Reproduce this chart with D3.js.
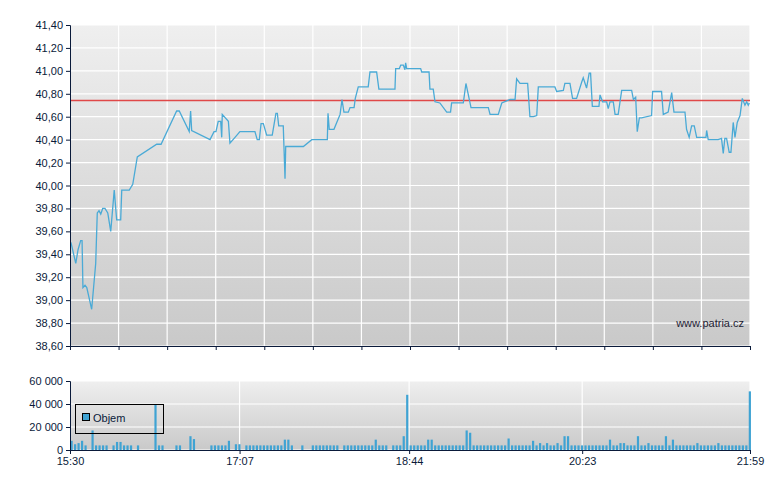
<!DOCTYPE html>
<html><head><meta charset="utf-8">
<script src="https://cdn.jsdelivr.net/npm/d3@7"></script>
<style>body{margin:0;background:#fff}svg{display:block;font-family:"Liberation Sans",Arial,sans-serif}</style>
</head><body><svg id="c" width="780" height="490"></svg>
<script>
// minutes since 15:30
const priceTimes=[0,0.6,3.3,4.6,6.1,6.9,7.4,8.6,9.6,12.4,14.7,15.6,16.6,17.6,18.7,20.0,21.6,23.3,25.3,26.7,29.0,29.6,33.9,35.9,38.5,49.6,52.1,61.0,62.5,68.2,69.0,69.6,80.1,82.4,83.5,84.8,86.2,86.8,87.1,90.6,91.5,94.4,97.2,105.8,107.1,108.3,109.3,110.6,112.5,115.7,117.8,118.6,119.4,122.0,123.0,123.4,133.5,138.3,147.2,147.6,148.3,151.0,154.5,155.6,156.7,159.2,160.2,162.5,163.2,164.9,170.6,171.6,175.4,176.7,185.9,186.3,188.4,189.2,190.7,191.6,192.0,192.6,200.6,201.2,205.4,205.9,207.8,208.8,211.6,215.5,217.7,218.3,225.0,226.5,229.4,239.3,240.3,245.0,247.0,251.7,254.6,255.5,257.4,261.8,263.1,265.1,267.0,267.9,277.4,278.4,282.2,283.1,286.0,287.5,289.8,292.7,293.6,295.5,297.0,297.8,298.8,302.6,303.2,304.7,307.0,307.9,308.9,310.8,311.8,313.6,315.6,321.3,322.3,323.6,324.5,325.7,327.0,332.7,333.3,338.4,339.4,342.2,344.2,345.5,351.8,352.7,354.2,355.6,357.1,358.5,363.8,364.2,365.1,370.8,372.7,373.7,374.6,375.6,377.1,378.1,379.4,380.4,381.7,383.3,384.6,386.1,387.1,388.0,388.6];
const priceValues=[39.50,39.50,39.32,39.44,39.52,39.52,39.11,39.13,39.11,38.92,39.32,39.76,39.78,39.75,39.80,39.80,39.76,39.60,39.96,39.70,39.70,39.96,39.96,40.01,40.25,40.36,40.36,40.65,40.65,40.47,40.65,40.48,40.40,40.47,40.47,40.56,40.56,40.42,40.62,40.56,40.37,40.42,40.47,40.47,40.40,40.40,40.54,40.54,40.44,40.44,40.63,40.63,40.52,40.52,40.06,40.34,40.34,40.40,40.40,40.63,40.49,40.49,40.62,40.75,40.64,40.64,40.68,40.68,40.76,40.86,40.86,40.99,40.99,40.84,40.84,41.02,41.02,41.05,41.05,41.01,41.07,41.02,41.02,40.99,40.99,40.84,40.84,40.73,40.72,40.64,40.64,40.72,40.72,40.89,40.68,40.68,40.62,40.62,40.72,40.75,40.75,40.93,40.89,40.89,40.60,40.60,40.61,40.86,40.86,40.82,40.83,40.89,40.89,40.76,40.76,40.90,40.94,40.85,40.98,40.98,40.69,40.69,40.79,40.73,40.73,40.67,40.73,40.73,40.62,40.62,40.83,40.83,40.75,40.77,40.47,40.59,40.59,40.61,40.82,40.82,40.62,40.64,40.81,40.64,40.64,40.49,40.42,40.52,40.52,40.42,40.42,40.48,40.40,40.40,40.41,40.28,40.41,40.41,40.29,40.29,40.55,40.42,40.55,40.61,40.76,40.70,40.73,40.70,40.72];
const refPrice=40.75;
// volume per 2-minute bin
const volumes=[8000,5000,6000,8000,4000,0,17000,4000,4000,4000,
4000,0,4000,7000,7000,4000,4000,4000,0,4000,
0,0,0,0,40000,4000,4000,0,0,0,
4000,4000,0,0,12000,9500,0,0,0,0,
4000,4000,4000,4000,4000,8000,0,5000,5000,0,
4000,4000,4000,4000,4000,4000,4000,4000,4000,4000,
4000,9000,9000,4000,0,0,4000,0,0,4000,
4000,4000,4000,4000,4000,4000,4000,0,4000,4000,
4000,4000,4000,4000,4000,4000,4000,9000,4000,4000,
4000,0,4000,4000,4000,12000,48000,4000,4000,4000,
4000,4000,9000,9000,4000,4000,4000,4000,4000,4000,
4000,4000,4000,17000,15000,4000,4000,4000,4000,4000,
4000,4000,4000,4000,4000,10000,4000,4000,4000,4000,
4000,4000,8000,4000,6000,4000,6000,4000,4000,6000,
4000,12000,12000,4000,4000,4000,4000,4000,4000,4000,
4000,4000,4000,4000,9000,4000,4000,6000,6000,4000,
4000,4000,12000,4000,4000,6000,4000,4000,4000,4000,
12000,4000,9000,4000,4000,4000,4000,4000,4000,6000,
4000,4000,4000,4000,4000,6000,4000,4000,4000,4000,
4000,4000,4000,4000,51000];
const priceTicks=[38.6,38.8,39.0,39.2,39.4,39.6,39.8,40.0,40.2,40.4,40.6,40.8,41.0,41.2,41.4];
const volTicks=[0,20000,40000,60000];
const timeLabels=["15:30","17:07","18:44","20:23","21:59"];
const timeLabelMin=[0,97,194,293,389];

const svg=d3.select("#c");
const L=70,R=750,T=25,B=346,VT=381,VB=450;
const x=d3.scaleLinear().domain([0,389]).range([L,R]);
const y=d3.scaleLinear().domain([38.6,41.4]).range([B,T]);
const yv=d3.scaleLinear().domain([0,60000]).range([VB,VT]);
const defs=svg.append("defs");
const g=defs.append("linearGradient").attr("id","bg").attr("x1",0).attr("x2",0).attr("y1",0).attr("y2",1);
g.append("stop").attr("offset",0).attr("stop-color","#efefef");
g.append("stop").attr("offset",1).attr("stop-color","#c9c9c9");
svg.append("rect").attr("x",L).attr("y",T).attr("width",R-L).attr("height",B-T).attr("fill","url(#bg)");
svg.append("rect").attr("x",L).attr("y",VT).attr("width",R-L).attr("height",VB-VT).attr("fill","url(#bg)");
const fmt=d=>d3.format(".2f")(d).replace(".",",");
svg.append("g").selectAll("line").data(priceTicks).join("line")
 .attr("x1",L).attr("x2",R).attr("y1",d=>y(d)).attr("y2",d=>y(d)).attr("stroke","#fff").attr("stroke-width",1.2);
const vdiv=d3.range(15).map(i=>i*389/14);
svg.append("g").selectAll("line").data(vdiv).join("line")
 .attr("x1",d=>x(d)).attr("x2",d=>x(d)).attr("y1",T).attr("y2",B).attr("stroke","#fff").attr("stroke-width",1.2);
svg.append("text").attr("x",744).attr("y",327).attr("text-anchor","end").attr("font-size",11).attr("fill","#223").text("www.patria.cz");
svg.append("line").attr("x1",L).attr("x2",R).attr("y1",Math.round(y(refPrice))+0.5).attr("y2",Math.round(y(refPrice))+0.5).attr("stroke","#e04848").attr("stroke-width",1.5);
const pts=priceTimes.map((t,i)=>[t,priceValues[i]]);
svg.append("path").datum(pts).attr("fill","none").attr("stroke","#4aaad6").attr("stroke-width",1.3)
 .attr("d",d3.line().x(d=>x(d[0])).y(d=>y(d[1])));
const ya=svg.append("g").attr("transform",`translate(${L},0)`).call(d3.axisLeft(y).tickValues(priceTicks).tickFormat(fmt).tickSize(4));
const xa=svg.append("g").attr("transform",`translate(0,${B})`).call(d3.axisBottom(x).tickValues(vdiv).tickFormat("").tickSize(4));
svg.append("g").selectAll("line").data(volTicks).join("line")
 .attr("x1",L).attr("x2",R).attr("y1",d=>yv(d)).attr("y2",d=>yv(d)).attr("stroke","#fff").attr("stroke-width",1.2);
svg.append("g").selectAll("line").data(timeLabelMin).join("line")
 .attr("x1",d=>x(d)).attr("x2",d=>x(d)).attr("y1",VT).attr("y2",VB).attr("stroke","#fff").attr("stroke-width",1.2);
svg.append("g").selectAll("rect").data(volumes).join("rect")
 .attr("x",(d,i)=>x(i*2)+0.5).attr("width",Math.max(1,x(2)-x(0)-1.3))
 .attr("y",d=>yv(d)).attr("height",d=>VB-yv(d)).attr("fill","#3fa3d3");
const yva=svg.append("g").attr("transform",`translate(${L},0)`).call(d3.axisLeft(yv).tickValues(volTicks).tickFormat(d=>d3.format(",")(d).replace(/,/g," ")).tickSize(4));
const xva=svg.append("g").attr("transform",`translate(0,${VB})`).call(d3.axisBottom(x).tickValues(timeLabelMin).tickFormat((d,i)=>timeLabels[i]).tickSize(4));
[ya,xa,yva,xva].forEach(a=>{a.selectAll("path,line").attr("stroke","#0a1a3a");a.selectAll("text").attr("fill","#0a1a3a").attr("font-size",11).style("font-family","Liberation Sans, Arial, sans-serif");});
svg.append("rect").attr("x",75.5).attr("y",404.5).attr("width",88).attr("height",29).attr("fill","none").attr("stroke","#000");
svg.append("rect").attr("x",82.5).attr("y",413.5).attr("width",7).attr("height",7).attr("fill","#3fa3d3").attr("stroke","#000");
svg.append("text").attr("x",93).attr("y",422).attr("font-size",11).attr("fill","#0a1a3a").text("Objem");
</script></body></html>
